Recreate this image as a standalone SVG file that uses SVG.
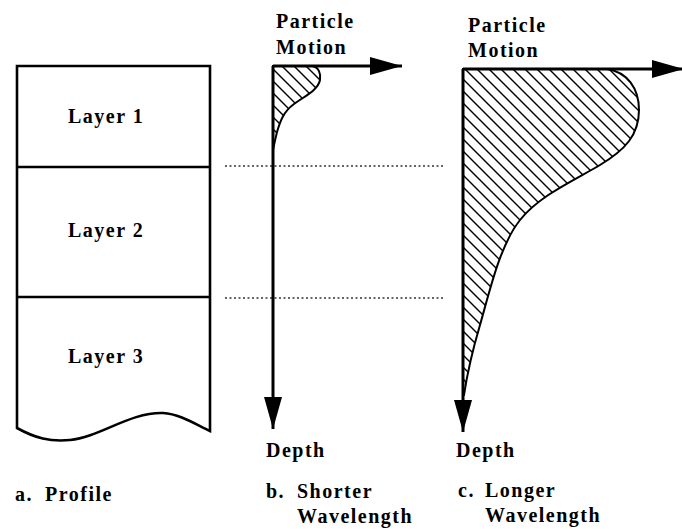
<svg xmlns="http://www.w3.org/2000/svg" width="682" height="529" viewBox="0 0 682 529">
<style>
text{font-family:"Liberation Serif","Times New Roman",serif;font-weight:bold;font-size:20px;letter-spacing:1.5px;fill:#000}
.box{fill:none;stroke:#000;stroke-width:2.6}
.axis{fill:none;stroke:#000;stroke-width:3}
.dot{stroke:#333;stroke-width:1.4;stroke-dasharray:2,2.5}
.shade{fill:url(#hatch);stroke:#000;stroke-width:2}
</style>
<defs>
<pattern id="hatch" patternUnits="userSpaceOnUse" width="12" height="12">
<path d="M-3,-3 L15,15 M-9,3 L3,15 M3,-9 L15,3" stroke="#000" stroke-width="1.4"/>
</pattern>
<marker id="ah" markerUnits="userSpaceOnUse" markerWidth="34" markerHeight="20" refX="32" refY="10" orient="auto">
<path d="M0,1 L32,10 L0,19 Z" fill="#000"/>
</marker>
</defs>
<g id="profile">
<path class="box" d="M17,428 L17,66 L210,66 L210,431 C195,424 180,414 163,413 C130,412 100,437 70,440 C50,442 35,438 17,428 Z"/>
<line class="box" x1="17" y1="167" x2="210" y2="167"/>
<line class="box" x1="17" y1="297" x2="210" y2="297"/>
<text x="68" y="123">Layer 1</text>
<text x="68" y="237">Layer 2</text>
<text x="68" y="363">Layer 3</text>
<text x="15" y="501">a.</text>
<text x="45" y="501">Profile</text>
</g>
<g id="connectors">
<line class="dot" x1="225" y1="166" x2="444" y2="166"/>
<line class="dot" x1="225" y1="298" x2="444" y2="298"/>
</g>
<g id="shorter">
<path class="shade" d="M273,66 L312,66 C319,67 321,74 320,80 C318,90 305,96 294,104 C283,112 280,122 277,132 C275,140 274,145 273,150 Z"/>
<line class="axis" x1="273" y1="66" x2="402" y2="66" marker-end="url(#ah)"/>
<line class="axis" x1="273" y1="66" x2="273" y2="429" marker-end="url(#ah)"/>
<text x="276" y="28">Particle</text>
<text x="276" y="54">Motion</text>
<text x="266" y="457">Depth</text>
<text x="266" y="498">b.</text>
<text x="297" y="498">Shorter</text>
<text x="297" y="523">Wavelength</text>
</g>
<g id="longer">
<path class="shade" d="M463,69 L607,69 C627,72 639,88 639,110 C639,135 625,150 600,165 C575,180 540,195 520,220 C500,245 490,290 480,325 C472,352 467,375 464,395 L463,395 Z"/>
<line class="axis" x1="463" y1="69" x2="684" y2="69" marker-end="url(#ah)"/>
<line class="axis" x1="463" y1="69" x2="463" y2="432" marker-end="url(#ah)"/>
<text x="468" y="32">Particle</text>
<text x="468" y="57">Motion</text>
<text x="456" y="457">Depth</text>
<text x="458" y="497">c.</text>
<text x="485" y="497">Longer</text>
<text x="485" y="522">Wavelength</text>
</g>
</svg>
